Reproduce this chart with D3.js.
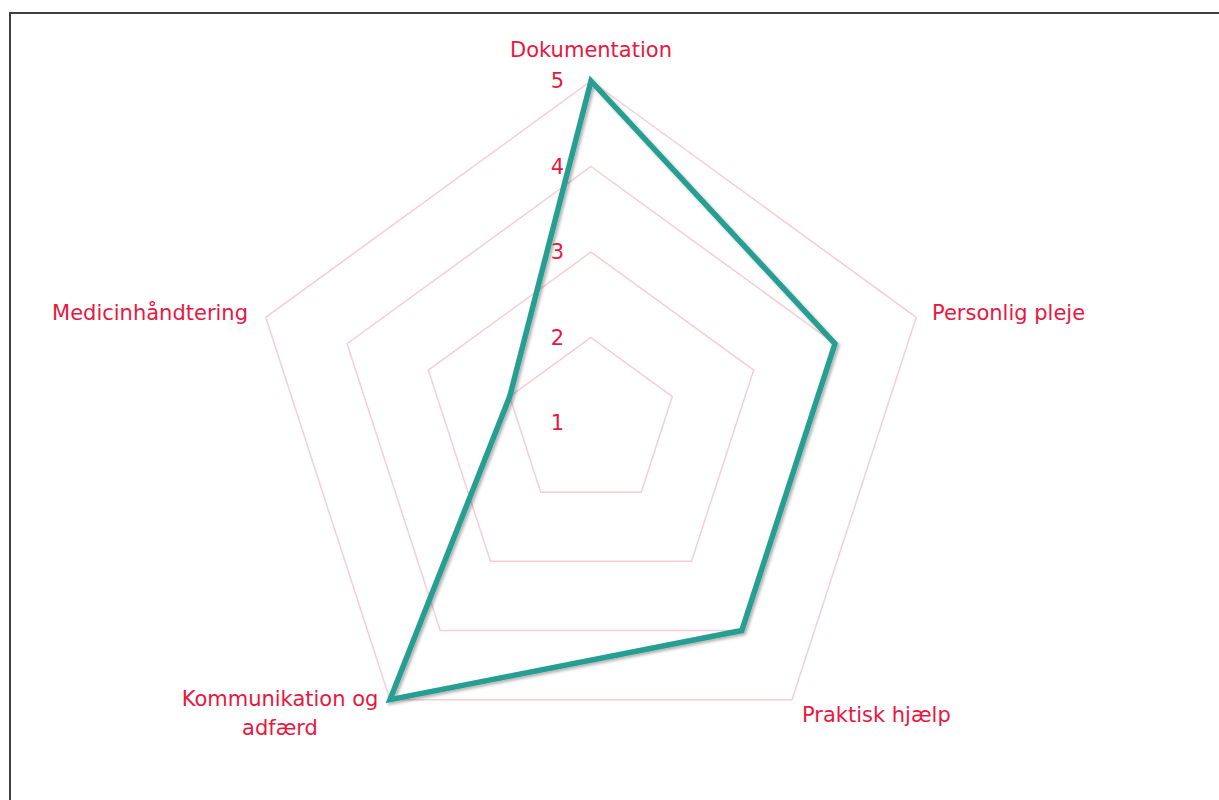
<!DOCTYPE html>
<html>
<head>
<meta charset="utf-8">
<script src="https://cdnjs.cloudflare.com/ajax/libs/d3/7.8.5/d3.min.js"></script>
<style>
body{margin:0;background:#fff;}
text{font-family:"DejaVu Sans",sans-serif;}
</style>
</head>
<body>
<script>
const categories = ["Dokumentation","Personlig pleje","Praktisk hjælp","Kommunikation og adfærd","Medicinhåndtering"];
const values = [5,4,4,5,2];
const tickLabels = [1,2,3,4,5];

const width = 1219, height = 800;
const cx = 591, cy = 423, radius = 342;

const svg = d3.select("body").append("svg")
	.attr("width", width)
	.attr("height", height);

// frame
svg.append("rect")
	.attr("x", 10).attr("y", 13)
	.attr("width", 1230).attr("height", 820)
	.attr("fill", "none")
	.attr("stroke", "#404040")
	.attr("stroke-width", 2);

const defs = svg.append("defs");
const f = defs.append("filter").attr("id","shadow").attr("x","-20%").attr("y","-20%").attr("width","140%").attr("height","140%");
f.append("feDropShadow").attr("dx",2).attr("dy",2).attr("stdDeviation",1.5).attr("flood-color","#000").attr("flood-opacity",0.3);

const r = d3.scaleLinear().domain([1,5]).range([0, radius]);
const angle = d3.scaleLinear().domain([0, categories.length]).range([0, 2*Math.PI]);

const g = svg.append("g").attr("transform", `translate(${cx},${cy})`);

function pt(i, v){
	const a = angle(i);
	return [Math.sin(a)*r(v), -Math.cos(a)*r(v)];
}

// grid rings
g.selectAll(".ring")
	.data(tickLabels.filter(d => d > 1))
	.join("polygon")
	.attr("class","ring")
	.attr("points", function(d){
		return categories.map((c,i) => pt(i,d).join(",")).join(" ");
	})
	.attr("fill","none")
	.attr("stroke","#f8ccd5")
	.attr("stroke-width",1.5);

// data line
const line = d3.line().curve(d3.curveLinearClosed);
g.append("path")
	.attr("d", line(values.map((v,i) => pt(i,v))))
	.attr("fill","none")
	.attr("stroke","#269e92")
	.attr("stroke-width",5.5)
	.attr("stroke-linejoin","miter")
	.attr("filter","url(#shadow)");

// tick labels
g.selectAll(".tick")
	.data(tickLabels)
	.join("text")
	.attr("class","tick")
	.attr("x", -27)
	.attr("y", d => -r(d))
	.attr("dy","0.35em")
	.attr("text-anchor","end")
	.attr("fill","#e8173f")
	.attr("font-size",21)
	.text(d => d);

// category labels
const labelPos = [
	{x:0, y:-366, anchor:"middle"},
	{x:341, y:-103, anchor:"start"},
	{x:211, y:299, anchor:"start"},
	{x:-311, y:283, anchor:"middle"},
	{x:-343, y:-103, anchor:"end"}
];
const lines = c => c === "Kommunikation og adfærd" ? ["Kommunikation og","adfærd"] : [c];
g.selectAll(".cat")
	.data(categories)
	.join("text")
	.attr("class","cat")
	.attr("x", (d,i) => labelPos[i].x)
	.attr("y", (d,i) => labelPos[i].y)
	.attr("text-anchor", (d,i) => labelPos[i].anchor)
	.attr("fill","#e8173f")
	.attr("font-size",21)
	.each(function(d,i){
		const t = d3.select(this);
		lines(d).forEach((s,k) => {
			t.append("tspan").attr("x", labelPos[i].x).attr("dy", k ? "1.38em" : 0).text(s);
		});
	});
</script>
</body>
</html>
